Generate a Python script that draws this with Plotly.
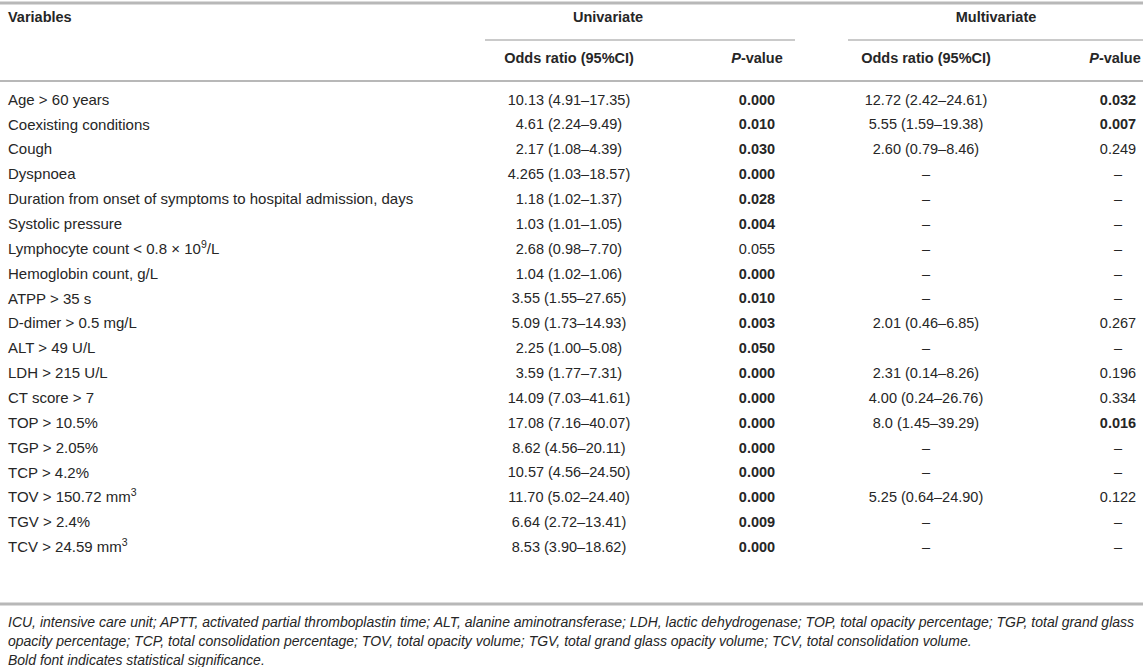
"""
plot.py
Univariate / multivariate logistic regression table drawn with Plotly.
"""
import plotly.graph_objs as go

variables = [
    "Age > 60 years",
    "Coexisting conditions",
    "Cough",
    "Dyspnoea",
    "Duration from onset of symptoms to hospital admission, days",
    "Systolic pressure",
    "Lymphocyte count < 0.8 × 10<sup>9</sup>/L",
    "Hemoglobin count, g/L",
    "ATPP > 35 s",
    "D-dimer > 0.5 mg/L",
    "ALT > 49 U/L",
    "LDH > 215 U/L",
    "CT score > 7",
    "TOP > 10.5%",
    "TGP > 2.05%",
    "TCP > 4.2%",
    "TOV > 150.72 mm<sup>3</sup>",
    "TGV > 2.4%",
    "TCV > 24.59 mm<sup>3</sup>",
]
uni_or = [
    "10.13 (4.91–17.35)", "4.61 (2.24–9.49)", "2.17 (1.08–4.39)", "4.265 (1.03–18.57)",
    "1.18 (1.02–1.37)", "1.03 (1.01–1.05)", "2.68 (0.98–7.70)", "1.04 (1.02–1.06)",
    "3.55 (1.55–27.65)", "5.09 (1.73–14.93)", "2.25 (1.00–5.08)", "3.59 (1.77–7.31)",
    "14.09 (7.03–41.61)", "17.08 (7.16–40.07)", "8.62 (4.56–20.11)", "10.57 (4.56–24.50)",
    "11.70 (5.02–24.40)", "6.64 (2.72–13.41)", "8.53 (3.90–18.62)",
]
uni_p = [
    "0.000", "0.010", "0.030", "0.000", "0.028", "0.004", "0.055", "0.000", "0.010", "0.003",
    "0.050", "0.000", "0.000", "0.000", "0.000", "0.000", "0.000", "0.009", "0.000",
]
multi_or = [
    "12.72 (2.42–24.61)", "5.55 (1.59–19.38)", "2.60 (0.79–8.46)", None, None, None, None,
    None, None, "2.01 (0.46–6.85)", None, "2.31 (0.14–8.26)", "4.00 (0.24–26.76)",
    "8.0 (1.45–39.29)", None, None, "5.25 (0.64–24.90)", None, None,
]
multi_p = [
    "0.032", "0.007", "0.249", None, None, None, None, None, None, "0.267", None,
    "0.196", "0.334", "0.016", None, None, "0.122", None, None,
]
footnotes = [
    "ICU, intensive care unit; APTT, activated partial thromboplastin time; ALT, alanine aminotransferase; "
    "LDH, lactic dehydrogenase; TOP, total opacity percentage; TGP, total grand glass",
    "opacity percentage; TCP, total consolidation percentage; TOV, total opacity volume; "
    "TGV, total grand glass opacity volume; TCV, total consolidation volume.",
    "Bold font indicates statistical significance.",
]

W, H = 1143, 667
TXT = "#262626"
RULE = "#b8b8b8"
FONT = "Liberation Sans, Arial, sans-serif"
FS = 14.5

# layout in pixel units (x right, y down)
X_VAR = 8
X_UOR, X_UP = 569, 757
X_MOR, X_MP = 926, 1118
ROW0, ROW_STEP = 101, 24.85
rows_y = [ROW0 + i * ROW_STEP for i in range(len(variables))]


def fmt_p(p):
    if p is None:
        return "–"
    return "<b>%s</b>" % p if float(p) <= 0.05 else p


def fmt_or(v):
    return "–" if v is None else v


fig = go.Figure()


def add_text(xs, ys, texts, pos, size=FS, bold=False, italic=False):
    fig.add_trace(go.Scatter(
        x=xs, y=ys, text=texts, mode="text", textposition=pos,
        textfont=dict(family=FONT, size=size, color=TXT,
                      weight="bold" if bold else "normal",
                      style="italic" if italic else "normal"),
        hoverinfo="skip", showlegend=False,
    ))


# headers
add_text([X_VAR], [18], ["Variables"], "middle right", bold=True)
add_text([608, 996], [18, 18], ["Univariate", "Multivariate"], "middle center", bold=True)
add_text([X_UOR, X_UP, X_MOR, X_MP - 3], [59] * 4,
         ["Odds ratio (95%CI)", "<i>P</i>-value", "Odds ratio (95%CI)", "<i>P</i>-value"],
         "middle center", bold=True)

# body
add_text([X_VAR] * len(variables), rows_y, variables, "middle right", size=15)
add_text([X_UOR] * len(uni_or), rows_y, uni_or, "middle center")
add_text([X_UP] * len(uni_p), rows_y, [fmt_p(p) for p in uni_p], "middle center")
add_text([X_MOR] * len(multi_or), rows_y, [fmt_or(v) for v in multi_or], "middle center")
add_text([X_MP] * len(multi_p), rows_y, [fmt_p(p) for p in multi_p], "middle center")

# footnotes
add_text([X_VAR] * len(footnotes), [623 + i * 19 for i in range(len(footnotes))],
         footnotes, "middle right", size=14, italic=True)

# horizontal rules
rules = [(0, W, 3, 3), (485, 795, 40, 1.5), (848, W, 40, 1.5), (0, W, 81, 2), (0, W, 604, 3)]
for x0, x1, y, w in rules:
    fig.add_shape(type="line", xref="x", yref="y", x0=x0, x1=x1, y0=y, y1=y,
                  line=dict(color=RULE, width=w))

fig.update_layout(
    width=W, height=H,
    margin=dict(l=0, r=0, t=0, b=0),
    paper_bgcolor="white", plot_bgcolor="white",
    xaxis=dict(range=[0, W], visible=False, fixedrange=True),
    yaxis=dict(range=[H, 0], visible=False, fixedrange=True),
)
fig.write_html("out.html", config={"displayModeBar": False},
               post_script="document.body.style.margin='0';document.body.style.overflow='hidden';")
